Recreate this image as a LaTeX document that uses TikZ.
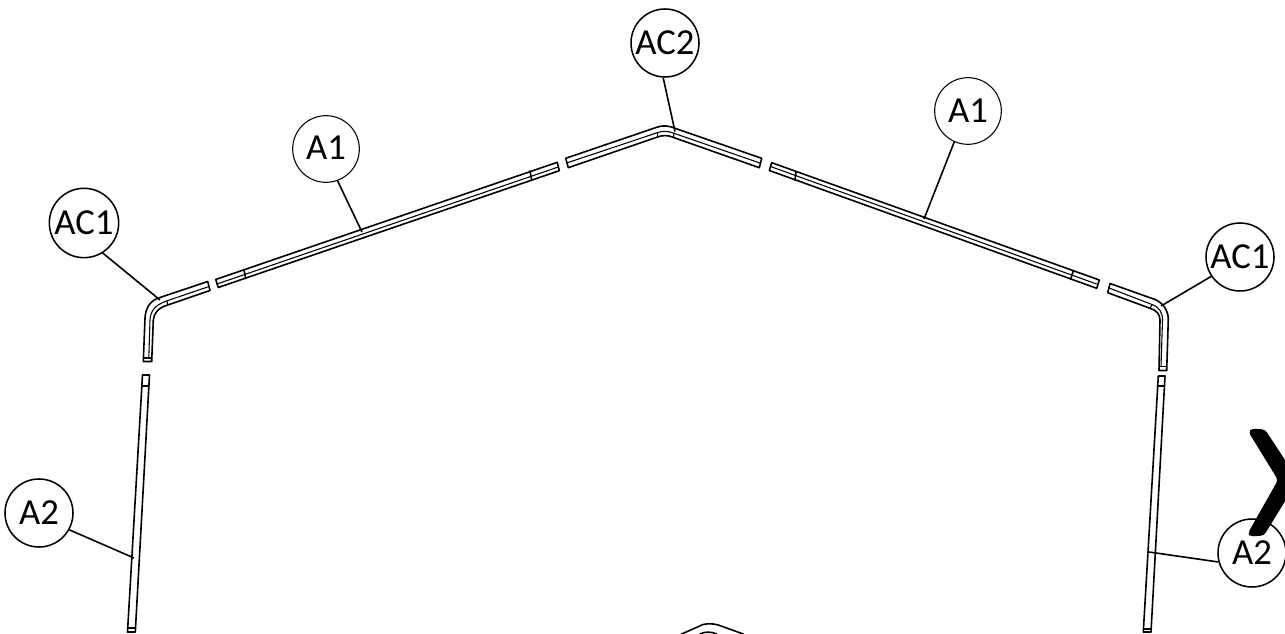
\documentclass[tikz,border=0pt]{standalone}
\usepackage{fontspec}
\setmainfont{Carlito}
\tikzset{
  part/.style={draw=black,line width=1.2pt,line join=round,line cap=round},
  thin part/.style={draw=black,line width=0.8pt,line join=round,line cap=round},
  callout/.style={circle,draw=black,line width=1.15pt,fill=white,minimum size=51pt,inner sep=0pt,font=\fontsize{27.5}{30}\selectfont},
  thin callout/.style={callout,line width=0.8pt,minimum size=50pt},
  leader/.style={draw=black,line width=1.2pt}
}
\begin{document}
\begin{tikzpicture}[x=0.75pt,y=-0.75pt]
\useasboundingbox (0,0) rectangle (1285,634);
% left corner piece
\draw[part] (143.3,361.5) -- (145,318) .. controls (145.6,307) and (151,300) .. (160,297.5) -- (207.7,281.5) -- (210,290.5) -- (167.7,305) .. controls (158,308) and (154,313) .. (153.3,320) -- (151.7,361.5) -- cycle;
\draw[thin part] (209,286.5) -- (166.5,301) .. controls (155,305) and (150.5,311) .. (150,320) -- (148.8,358);
\draw[thin part] (143.5,358) -- (151.8,358);
\draw[thin part] (167,301) -- (167.7,305);
% left lower leg
\draw[part] (142.5,375) -- (127.5,632) -- (135.3,632) -- (149.5,375) -- cycle;
\draw[thin part] (142,386) -- (149,386);
\draw[thin part] (128,628) -- (135.5,628);
% upper left long piece
\draw[part] (215.7,279.5) -- (557.3,162.3) -- (559.3,170.7) -- (218.3,287.5) -- cycle;
\draw[thin part] (217,284) -- (558.3,167);
\draw[part] (244,270) -- (245.7,278.5);
\draw[part] (530,171) -- (531.7,180);
% top piece
\draw[part] (565.7,158.3) -- (656.7,127.3) .. controls (662,125.3) and (668,125.3) .. (675,128.3) -- (761.7,158.3) -- (759.3,167.7) -- (673,137.3) .. controls (668,135) and (662,135) .. (656.7,137.3) -- (568.3,167.7) -- cycle;
\draw[thin part] (566.7,163) -- (657.3,132.7) .. controls (662,130.8) and (668,130.8) .. (674,133.3) -- (760.7,163.3);
\draw[thin part] (657.3,132.7) -- (657.3,137);
\draw[thin part] (674,133.3) -- (673.5,137);
% upper right long piece
\draw[part] (771.7,162.7) -- (1099.3,280) -- (1096.7,288.3) -- (769.3,170.5) -- cycle;
\draw[thin part] (770.5,166.5) -- (1096.5,284);
\draw[part] (796,171.7) -- (795,180);
\draw[part] (1073.3,270.7) -- (1070.7,279.3);
% right corner piece
\draw[part] (1110,283.5) -- (1155,299.5) .. controls (1163,303) and (1168,310) .. (1168.3,319) -- (1166.7,370.5) -- (1159,370.5) -- (1160,320) .. controls (1160,314) and (1156,310) .. (1150,308.3) -- (1107.7,292.7) -- cycle;
\draw[thin part] (1109,288) -- (1152,304.5) .. controls (1159,307) and (1162.5,312) .. (1162.5,320) -- (1161,366.7);
\draw[thin part] (1159,366.7) -- (1166.8,366.7);
\draw[thin part] (1150,308.3) -- (1152,304.5);
% right lower leg
\draw[part] (1158.3,376) -- (1143.3,632) -- (1151,632) -- (1165,376) -- cycle;
\draw[thin part] (1158,386) -- (1164.5,386);
\draw[thin part] (1144,629) -- (1151,629);
% bottom partial shape
\draw[part] (681.7,634) -- (703,624.5) .. controls (708,623.5) and (713,623.5) .. (718.3,625) -- (743.3,634);
\draw[part] (700,634) .. controls (704,631.5) and (712,631.5) .. (716.7,634);
% targets
\coordinate (tAC2) at (675,131.5);
\coordinate (tA1l) at (362,232);
\coordinate (tA1r) at (924,219);
\coordinate (tAC1l) at (160,300);
\coordinate (tAC1r) at (1161,306);
\coordinate (tA2l) at (134,558);
\coordinate (tA2r) at (1149,552);
% callouts
\node[callout] (cAC2) at (665,43) {AC2};
\node[thin callout] (cA1l) at (326,149) {\raisebox{2.2pt}{A1}};
\node[thin callout] (cA1r) at (968,111) {A1};
\node[callout,minimum size=52pt] (cAC1l) at (84,223) {AC1};
\node[callout] (cAC1r) at (1240,257) {AC1};
\node[callout] (cA2l) at (39,513) {\raisebox{-1pt}{A2}};
\node[callout] (cA2r) at (1252,553) {\raisebox{-2.5pt}{A2}};
\draw[leader] (cAC2.267) -- (tAC2);
\draw[leader] (cA1l.290) -- (tA1l);
\draw[leader] (cA1r.246) -- (tA1r);
\draw[leader] (cAC1l.302) -- (tAC1l);
\draw[leader] (cAC1r.214) -- (tAC1r);
\draw[leader] (cA2l.331) -- (tA2l);
\draw[leader] (cA2r.195) -- (tA2r);
% chevron
\fill[black,rounded corners=2.5pt] (1248.5,432) -- (1252,428.5) -- (1265,429.5) -- (1287,463) -- (1287,498) -- (1264,535.5) -- (1250,536.5) -- (1248,533) -- (1278,480) -- cycle;
\end{tikzpicture}
\end{document}
